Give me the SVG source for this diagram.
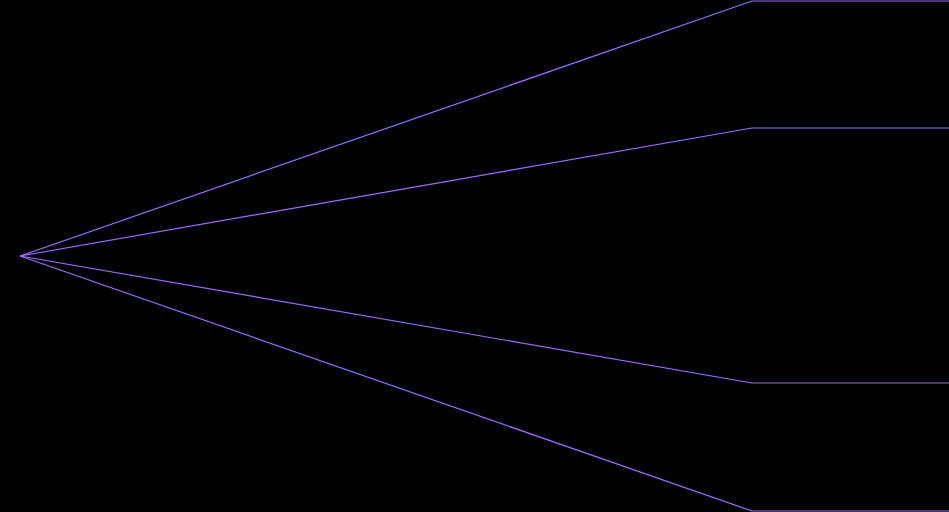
<svg xmlns="http://www.w3.org/2000/svg" width="949" height="512" viewBox="0 0 949 512">
<style>
.edge{fill:none;stroke:#9a6cff;stroke-width:1.2;}
</style>
<rect width="949" height="512" fill="#000"/>
<g id="connectors">
<path class="edge" d="M20,256 L752,1 L949,1"/>
<path class="edge" d="M20,256 L752,128 L949,128"/>
<path class="edge" d="M20,256 L752,383 L949,383"/>
<path class="edge" d="M20,256 L752,511 L949,511"/>
</g>
</svg>
